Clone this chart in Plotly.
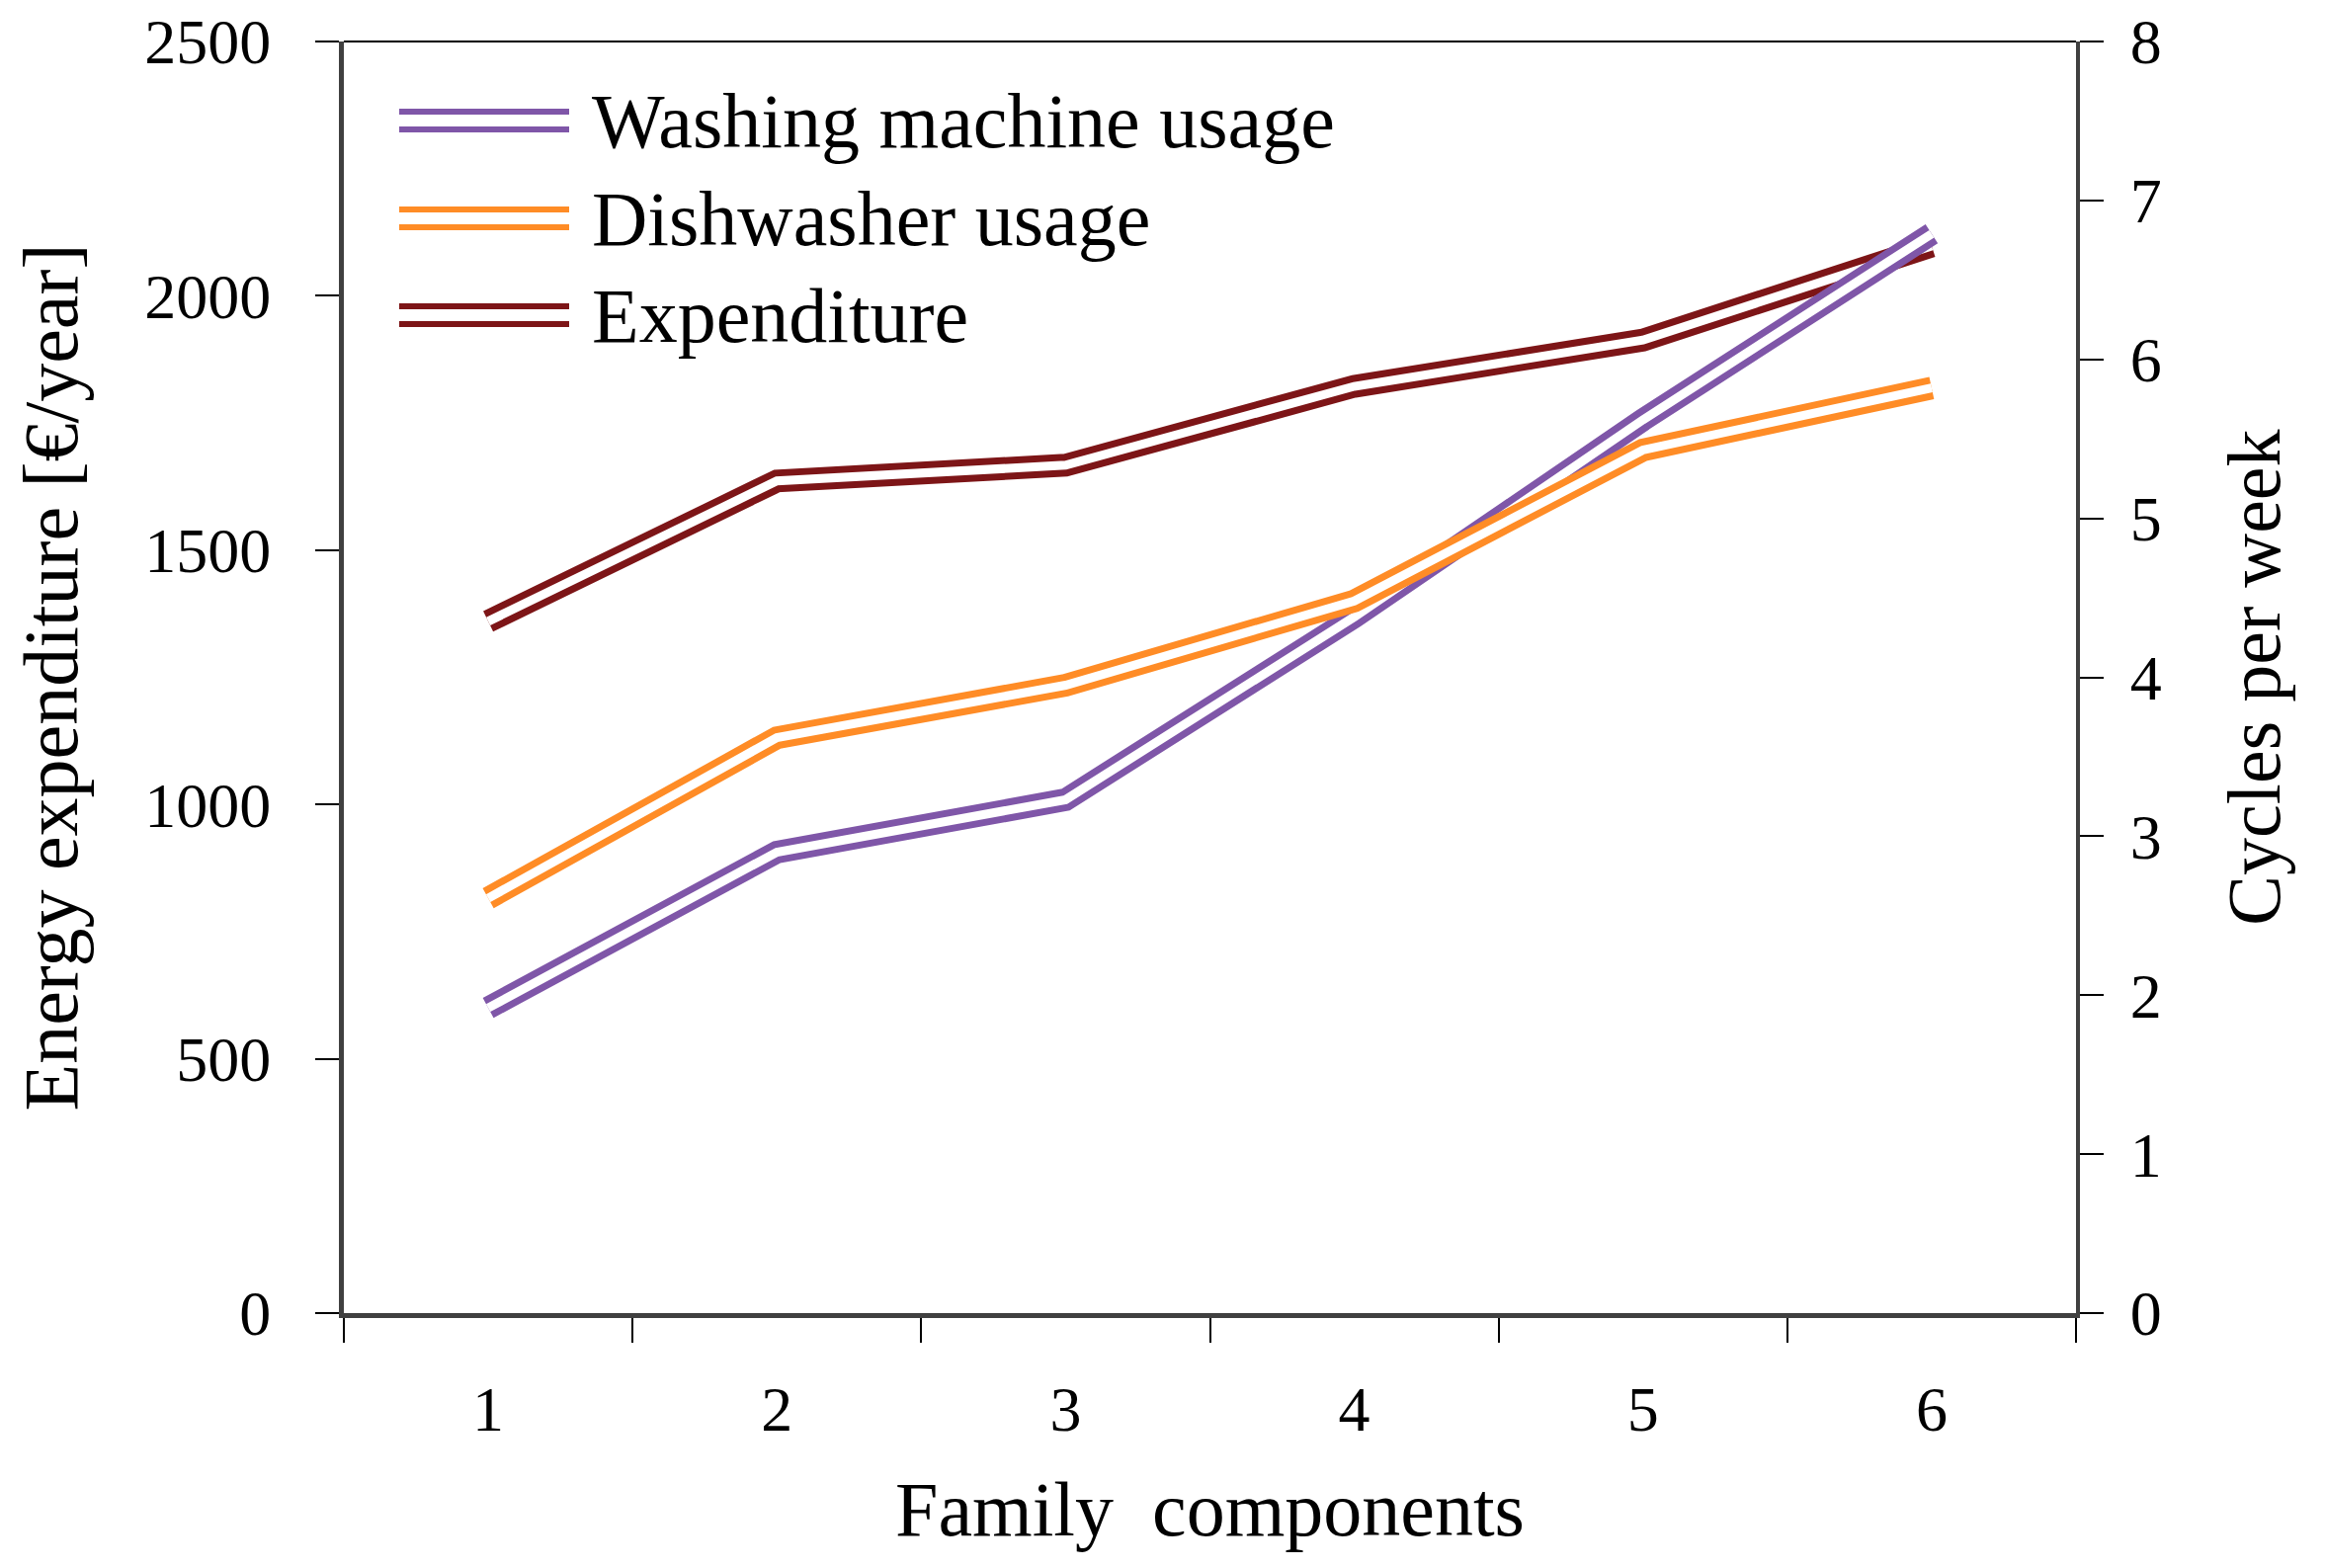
import plotly.graph_objects as go

categories = ["1", "2", "3", "4", "5", "6"]
washing_cycles = [1.92, 2.90, 3.23, 4.38, 5.62, 6.79]
dishwasher_cycles = [2.61, 3.62, 3.95, 4.48, 5.43, 5.82]
expenditure = [1360, 1636, 1667, 1822, 1913, 2098]
series_names = ["Washing machine usage", "Dishwasher usage", "Expenditure"]
left_ticks = [0, 500, 1000, 1500, 2000, 2500]
right_ticks = [0, 1, 2, 3, 4, 5, 6, 7, 8]

PURPLE = "#7F56A8"
ORANGE = "#FF8C26"
DARKRED = "#7D1517"
FONT = "Times New Roman, Liberation Serif, serif"
OUTER_W = 23
INNER_W = 9

fig = go.Figure()

def double_line(x, y, color, name, yaxis):
    fig.add_trace(go.Scatter(x=x, y=y, mode="lines", name=name, yaxis=yaxis,
                             line=dict(color=color, width=OUTER_W), showlegend=False))
    fig.add_trace(go.Scatter(x=x, y=y, mode="lines", name=name, yaxis=yaxis,
                             line=dict(color="white", width=INNER_W), showlegend=False,
                             hoverinfo="skip"))

double_line(categories, expenditure, DARKRED, series_names[2], "y")
double_line(categories, washing_cycles, PURPLE, series_names[0], "y2")
double_line(categories, dishwasher_cycles, ORANGE, series_names[1], "y2")

OFF = 8  # default page body margin
W, H = 2353 - 2 * OFF, 1587 - 2 * OFF
PL, PR, PT, PB = 348 - OFF, 2101 - OFF, 42 - OFF, 1329 - OFF

def px_x(x):
    return (x - OFF - PL) / (PR - PL)

def px_y(y):
    return 1 - (y - OFF - PT) / (PB - PT)

# manual double-line legend
legend_colors = [PURPLE, ORANGE, DARKRED]
legend_y = [122, 221, 319]  # pixel centres from top (reference pixels)
shapes = []
annotations = []
for name, col, yc in zip(series_names, legend_colors, legend_y):
    for off in (-9, 9):
        shapes.append(dict(type="line", xref="paper", yref="paper",
                           x0=px_x(404), x1=px_x(576),
                           y0=px_y(yc + off), y1=px_y(yc + off),
                           line=dict(color=col, width=6)))
    annotations.append(dict(xref="paper", yref="paper",
                            x=px_x(597), y=px_y(yc),
                            xanchor="left", yanchor="middle", showarrow=False,
                            text=name, font=dict(family=FONT, size=78, color="black")))

# top border
shapes.append(dict(type="line", xref="paper", yref="paper", x0=0, x1=1, y0=1, y1=1,
                   line=dict(color="black", width=2)))

fig.update_layout(
    width=W, height=H, autosize=False,
    margin=dict(l=PL, r=W - PR, t=PT, b=H - PB),
    paper_bgcolor="white", plot_bgcolor="white",
    font=dict(family=FONT, size=60, color="black"),
    showlegend=False,
    shapes=shapes, annotations=annotations,
    xaxis=dict(type="category", range=[-0.5, 5.5], tickson="boundaries",
               ticks="outside", ticklen=25, automargin=False,
               tickwidth=2, tickcolor="black", showline=True, linecolor="#404040",
               linewidth=5, showgrid=False, zeroline=False,
               tickfont=dict(family=FONT, size=64), ticklabelstandoff=37,
               ticklabeloverflow="allow",
               title=dict(text="Family  components", font=dict(family=FONT, size=78),
                          standoff=40)),
    yaxis=dict(range=[0, 2500], tickvals=left_ticks, ticks="outside", ticklen=24,
               automargin=False, ticklabeloverflow="allow",
               tickwidth=2, tickcolor="black", showline=True, linecolor="#404040",
               linewidth=5, showgrid=False, zeroline=False,
               tickfont=dict(family=FONT, size=64), ticklabelstandoff=32,
               title=dict(text="Energy expenditure [€/year]",
                          font=dict(family=FONT, size=78), standoff=50)),
    yaxis2=dict(range=[0, 8], tickvals=right_ticks, overlaying="y", side="right",
                ticks="outside", ticklen=24, tickwidth=2, tickcolor="black",
                automargin=False, ticklabeloverflow="allow",
                showline=True, linecolor="#404040", linewidth=4, showgrid=False,
                zeroline=False, tickfont=dict(family=FONT, size=64),
                ticklabelstandoff=14,
                title=dict(text="Cycles per week", font=dict(family=FONT, size=76),
                           standoff=68)),
)

fig.write_html("out.html")
